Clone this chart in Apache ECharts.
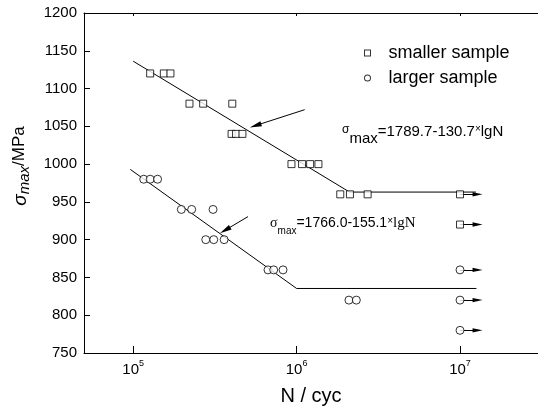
<!DOCTYPE html>
<html>
<head>
<meta charset="utf-8">
<script src="https://cdn.jsdelivr.net/npm/echarts@6/dist/echarts.min.js"></script>
<style>
  html, body { margin: 0; padding: 0; background: #fff; }
  #chart { width: 538px; height: 412px; }
</style>
</head>
<body>
<div id="chart"></div>
<script>
// measured points (N in cycles, stress in MPa)
const smallN = [1.27e5, 1.54e5, 1.69e5, 2.21e5, 2.68e5, 4.04e5, 4.0e5, 4.26e5, 4.66e5,
  9.3e5, 1.08e6, 1.21e6, 1.36e6, 1.85e6, 2.12e6, 2.72e6, 1e7, 1e7]
const smallS = [1120, 1120, 1120, 1080, 1080, 1080, 1040, 1040, 1040,
  1000, 1000, 1000, 1000, 960, 960, 960, 960, 920]
const largeN = [1.16e5, 1.27e5, 1.41e5, 1.97e5, 2.28e5, 3.08e5, 2.78e5, 3.11e5, 3.6e5,
  6.68e5, 7.24e5, 8.26e5, 2.09e6, 2.32e6, 1e7, 1e7, 1e7]
const largeS = [980, 980, 980, 940, 940, 940, 900, 900, 900,
  860, 860, 860, 820, 820, 860, 820, 780]

// fitted S-N lines (vertices)
const fitSmallN = [1e5, 2.11e6, 1.25e7]
const fitSmallS = [1136.2, 963, 963]
const fitLargeN = [9.6e4, 1e6, 1.26e7]
const fitLargeS = [993, 835.4, 835.4]

// run-outs at 1e7 cycles
const runoutFrom = 1e7
const runoutTo = 1.28e7
const runoutS = [960, 920, 860, 820, 780]

// pointer arrows to the fitted lines [tail, head]
const noteArrows = [
  [[1.12e6, 1072], [5.6e5, 1051]],
  [[5.04e5, 930.5], [3.65e5, 912.5]]
]

const xTicks = [1e5, 1e6, 1e7]
const yMin = 750
const yMax = 1200
const yStep = 50

const font = 'Liberation Sans, Arial, sans-serif'
const zip = (a, b) => a.map((v, i) => [v, b[i]])

// narrow filled arrow head, tip up, padded to a square box
const arrowHead = 'path://M0,0M10,10M5,0L7.2,10L2.8,10Z'
// hollow legend icons drawn as filled rings (1px outline at 7px)
const squareIcon = 'path://M0,0H7V7H0Z M1,1V6H6V1Z'
const circleIcon = 'path://M0,3.5A3.5,3.5 0 1 1 7,3.5A3.5,3.5 0 1 1 0,3.5Z M1,3.5A2.5,2.5 0 1 0 6,3.5A2.5,2.5 0 1 0 1,3.5Z'

const chart = echarts.init(document.getElementById('chart'))

const xAxisBase = {
  type: 'log',
  logBase: 10,
  min: 5e4,
  max: 3e7,
  splitLine: { show: false },
  axisLine: { lineStyle: { color: '#000', width: 1 } }
}

const options = {
  backgroundColor: '#fff',
  animation: false,
  grid: { left: 84, top: 13, width: 456, height: 340 },
  legend: {
    data: [
      { name: 'smaller sample', icon: squareIcon, itemStyle: { color: '#000', borderWidth: 0 } },
      { name: 'larger sample', icon: circleIcon, itemStyle: { color: '#000', borderWidth: 0 } }
    ],
    orient: 'vertical',
    left: 359,
    top: 39,
    itemWidth: 32,
    itemHeight: 7,
    itemGap: 7,
    symbolKeepAspect: true,
    textStyle: { fontSize: 18, color: '#000', fontFamily: font }
  },
  xAxis: [
    Object.assign({}, xAxisBase, {
      position: 'bottom',
      name: 'N / cyc',
      nameLocation: 'middle',
      nameGap: 33,
      nameTextStyle: { fontSize: 20, color: '#000', fontFamily: font },
      axisTick: { inside: true, length: 7, customValues: xTicks, lineStyle: { color: '#000' } },
      axisLabel: {
        customValues: xTicks,
        margin: 6,
        formatter: v => '{b|10}{e|' + Math.round(Math.log10(v)) + '}',
        rich: {
          b: { fontSize: 15, lineHeight: 18, verticalAlign: 'bottom', color: '#000', fontFamily: font },
          e: { fontSize: 9, lineHeight: 10, verticalAlign: 'top', color: '#000', fontFamily: font }
        }
      }
    }),
    Object.assign({}, xAxisBase, {
      position: 'top',
      axisTick: { inside: true, length: 3, customValues: xTicks, lineStyle: { color: '#000' } },
      axisLabel: { show: false }
    })
  ],
  yAxis: {
    type: 'value',
    min: yMin,
    max: yMax,
    interval: yStep,
    splitLine: { show: false },
    axisLine: { show: true, lineStyle: { color: '#000', width: 1 } },
    axisTick: { show: true, inside: true, length: 6, lineStyle: { color: '#000' } },
    axisLabel: { fontSize: 15, color: '#000', margin: 7, fontFamily: font, formatter: v => String(v) },
    name: '{s|σ}{m|max}{u|/MPa}',
    nameLocation: 'middle',
    nameRotate: 90,
    nameGap: 49,
    nameTextStyle: {
      padding: [0, 0, 0, 34],
      rich: {
        s: { fontSize: 19, fontStyle: 'italic', fontFamily: font, color: '#000', lineHeight: 22, verticalAlign: 'top' },
        m: { fontSize: 15, fontStyle: 'italic', fontFamily: font, color: '#000', lineHeight: 18, verticalAlign: 'bottom' },
        u: { fontSize: 17, fontFamily: font, color: '#000', lineHeight: 22, verticalAlign: 'top' }
      }
    }
  },
  graphic: [
    {
      type: 'text',
      left: 342,
      top: 124,
      style: {
        text: '{s|σ}{m|max}{t|=1789.7-130.7}{x|×}{t|lgN}',
        rich: {
          s: { fontSize: 12, fontFamily: font, fill: '#000', lineHeight: 12, verticalAlign: 'top' },
          m: { fontSize: 15, fontFamily: font, fill: '#000', lineHeight: 16, verticalAlign: 'bottom' },
          t: { fontSize: 15, fontFamily: font, fill: '#000', lineHeight: 22, verticalAlign: 'top' },
          x: { fontSize: 10, fontFamily: font, fill: '#000', lineHeight: 22, verticalAlign: 'top' }
        }
      }
    },
    {
      type: 'text',
      left: 270,
      top: 216,
      style: {
        text: '{s|σ}{m|max}{t|=1766.0-155.1}{x|×}{n|lgN}',
        rich: {
          s: { fontSize: 14, fontFamily: 'Liberation Serif, serif', fill: '#000', lineHeight: 18, verticalAlign: 'top' },
          m: { fontSize: 10, fontFamily: font, fill: '#000', lineHeight: 12, verticalAlign: 'bottom' },
          t: { fontSize: 14, fontFamily: font, fill: '#000', lineHeight: 20, verticalAlign: 'top' },
          x: { fontSize: 10, fontFamily: font, fill: '#000', lineHeight: 20, verticalAlign: 'top' },
          n: { fontSize: 15, fontFamily: 'Liberation Serif, serif', fill: '#000', lineHeight: 20, verticalAlign: 'top' }
        }
      }
    }
  ],
  series: [
    {
      name: 'fit smaller',
      type: 'line',
      data: zip(fitSmallN, fitSmallS),
      symbol: 'none',
      lineStyle: { color: '#000', width: 1 },
      z: 1
    },
    {
      name: 'fit larger',
      type: 'line',
      data: zip(fitLargeN, fitLargeS),
      symbol: 'none',
      lineStyle: { color: '#000', width: 1 },
      z: 1
    },
    {
      name: 'runout',
      type: 'lines',
      coordinateSystem: 'cartesian2d',
      symbol: ['none', arrowHead],
      symbolSize: 10,
      lineStyle: { color: '#000', width: 1, opacity: 1 },
      data: runoutS.map(s => ({ coords: [[runoutFrom, s], [runoutTo, s]] })),
      z: 2
    },
    {
      name: 'pointer',
      type: 'lines',
      coordinateSystem: 'cartesian2d',
      symbol: ['none', arrowHead],
      symbolSize: 12,
      lineStyle: { color: '#000', width: 1, opacity: 1 },
      data: noteArrows.map(c => ({ coords: c })),
      z: 2
    },
    {
      name: 'smaller sample',
      type: 'scatter',
      symbol: 'rect',
      symbolSize: 7,
      data: zip(smallN, smallS),
      itemStyle: { color: '#fff', borderColor: '#000', borderWidth: 1 },
      z: 3
    },
    {
      name: 'larger sample',
      type: 'scatter',
      symbol: 'circle',
      symbolSize: 8,
      data: zip(largeN, largeS),
      itemStyle: { color: '#fff', borderColor: '#000', borderWidth: 1 },
      z: 3
    }
  ]
}

chart.setOption(options)
</script>
</body>
</html>
